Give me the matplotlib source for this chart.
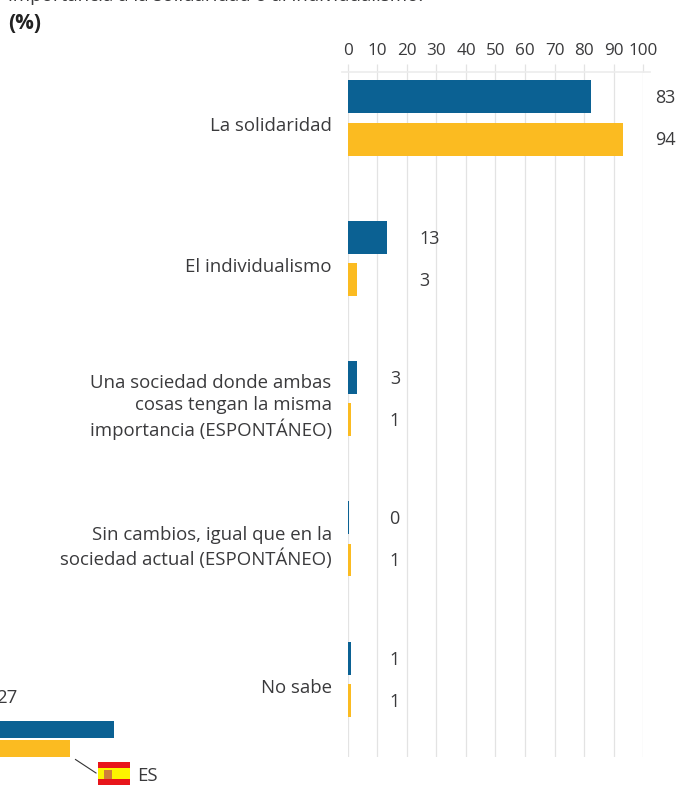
import matplotlib
matplotlib.use("Agg")
import matplotlib.pyplot as plt
from matplotlib.patches import Rectangle
from matplotlib.lines import Line2D

categories = ["La solidaridad", "El individualismo",
              "Una sociedad donde ambas\ncosas tengan la misma\nimportancia (ESPONTÁNEO)",
              "Sin cambios, igual que en la\nsociedad actual (ESPONTÁNEO)", "No sabe"]
eu27 = [82.3, 13.2, 3.2, 0.3, 1.2]
es = [93.1, 3.1, 1.2, 1.2, 1.2]
eu27_labels = ["83", "13", "3", "0", "1"]
es_labels = ["94", "3", "1", "1", "1"]
ticks = list(range(0, 101, 10))
title_text = "importancia a la solidaridad o al individualismo."
unit_text = "(%)"
legend_labels = ["27", "ES"]

BLUE = "#0b6193"; YEL = "#fbbb21"; TXT = "#3a3a3c"; GRID = "#e3e3e3"
W, H = 677, 785
plt.rcParams['font.family'] = ['Open Sans', 'DejaVu Sans']
fig = plt.figure(figsize=(W/100, H/100), dpi=100)
fx = lambda x: x/W
fy = lambda y: 1-y/H

L, R, T, B = 347.7, 643.3, 72, 757
ax = fig.add_axes([fx(L), fy(B), fx(R)-fx(L), (B-T)/H])
ax.set_xlim(0, 100)
ax.set_ylim(4.554, -0.328)
barh, off = 0.235, 0.15
for i, (a, b) in enumerate(zip(eu27, es)):
    ax.barh(i-off, a, height=barh, color=BLUE, zorder=3)
    ax.barh(i+off, b, height=barh, color=YEL, zorder=3)
    m = max(a, b, 3)
    for t, y in ((eu27_labels[i], i-off), (es_labels[i], i+off)):
        ax.annotate(t, xy=(m, y), xytext=(23.5, -1), textcoords="offset points",
                    va="center", ha="left", fontsize=13, color=TXT, annotation_clip=False)
    ax.annotate(categories[i], xy=(0, i), xytext=(-11.5, -6), textcoords="offset points",
                ha="right", va="center", fontsize=13.4, color=TXT, linespacing=1.24,
                annotation_clip=False)
for s in ax.spines.values():
    s.set_visible(False)
ax.xaxis.tick_top()
ax.set_xticks(ticks)
ax.set_xticklabels([str(t) for t in ticks], fontsize=12.3, color=TXT)
ax.set_yticks([])
ax.tick_params(axis="x", length=6, width=0.9, color=GRID, pad=3.2)
ax.grid(axis="x", color=GRID, lw=0.9, zorder=0)
ax.set_axisbelow(True)
fig.add_artist(Line2D([fx(342), fx(650)], [fy(T)]*2, color="#ececec", lw=1.2))

fig.text(fx(8), fy(1), title_text, fontsize=13.5, color=TXT, va="baseline", ha="left")
fig.text(fx(8), fy(23.5), unit_text, fontsize=15, fontweight="bold", color="#222222", va="center", ha="left")

# legend
fig.add_artist(Rectangle((fx(-5), fy(738)), fx(119), 17/H, color=BLUE, lw=0))
fig.add_artist(Rectangle((fx(-5), fy(757)), fx(75), 17/H, color=YEL, lw=0))
fig.text(fx(-4), fy(698), legend_labels[0], fontsize=13.4, color=TXT, va="center", ha="left")
fig.add_artist(Line2D([fx(75.5), fx(96)], [fy(759.5), fy(773)], color="#333333", lw=0.8))
fig.add_artist(Rectangle((fx(98), fy(785)), fx(32), 23/H, color="#e8151b", lw=0))
fig.add_artist(Rectangle((fx(98), fy(779)), fx(32), 11.5/H, color="#fdf500", lw=0))
fig.add_artist(Rectangle((fx(104), fy(778.5)), fx(8), 9/H, color="#cf7f3a", lw=0))
fig.text(fx(137), fy(776), legend_labels[1], fontsize=13.4, color=TXT, va="center", ha="left")
fig.savefig("out.png", dpi=100)
